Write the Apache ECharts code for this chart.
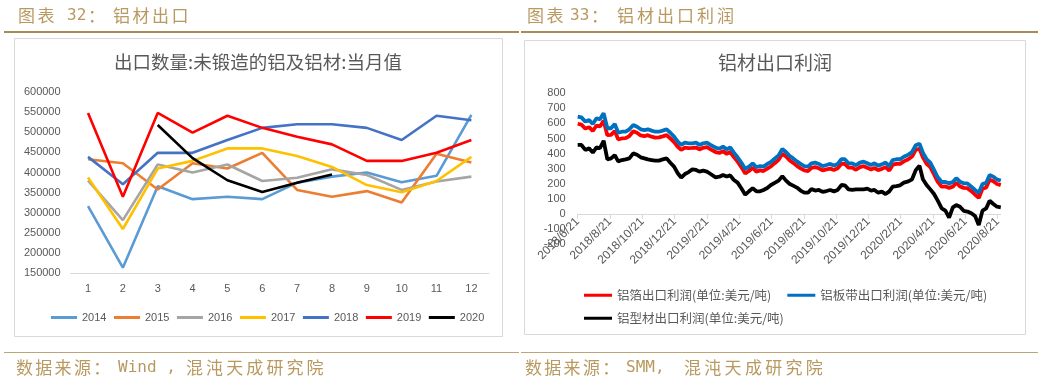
<!DOCTYPE html>
<html>
<head>
<meta charset="utf-8">
<script src="https://cdn.jsdelivr.net/npm/echarts@6/dist/echarts.min.js"></script>
<style>
html,body{margin:0;padding:0;background:#fff;}
#c{width:1038px;height:381px;}
</style>
</head>
<body>
<div id="c"></div>
<script>
// ---------- Left chart data ----------
const months = ['1','2','3','4','5','6','7','8','9','10','11','12'];
const yearNames = ['2014','2015','2016','2017','2018','2019','2020'];
const y2014 = [317000,164000,366000,334000,340000,334000,375000,390000,400000,376000,392000,543000];
const y2015 = [433000,423000,358000,423000,410000,449000,357000,340000,354000,326000,447000,425000];
const y2016 = [380000,282000,420000,400000,420000,379000,387000,408000,394000,357000,378000,390000];
const y2017 = [388000,260000,410000,429000,460000,460000,441000,414000,369000,351000,379000,439000];
const y2018 = [439000,371000,449000,449000,481000,511000,520000,520000,511000,481000,541000,530000];
const y2019 = [548000,340000,548000,499000,541000,511000,489000,470000,429000,429000,449000,481000];
const y2020 = [null,null,518000,436000,381000,352000,375000,395000,null,null,null,null];

// ---------- Right chart data ----------
const dates = ['2018/6/21','2018/6/28','2018/7/5','2018/7/12','2018/7/19','2018/7/26','2018/8/2','2018/8/9','2018/8/16','2018/8/23','2018/8/30','2018/9/6','2018/9/13','2018/9/20','2018/9/27','2018/10/4','2018/10/11','2018/10/18','2018/10/25','2018/11/1','2018/11/8','2018/11/15','2018/11/22','2018/11/29','2018/12/6','2018/12/13','2018/12/20','2018/12/27',
'2019/1/3','2019/1/10','2019/1/17','2019/1/24','2019/1/31','2019/2/7','2019/2/14','2019/2/21','2019/2/28','2019/3/7','2019/3/14','2019/3/21','2019/3/28','2019/4/4','2019/4/11','2019/4/18','2019/4/25','2019/5/2','2019/5/9','2019/5/16','2019/5/23','2019/5/30','2019/6/6','2019/6/13','2019/6/20','2019/6/27','2019/7/4','2019/7/11','2019/7/18','2019/7/25','2019/8/1','2019/8/8','2019/8/15','2019/8/22','2019/8/29','2019/9/5','2019/9/12','2019/9/19','2019/9/26','2019/10/3','2019/10/10','2019/10/17','2019/10/24','2019/10/31','2019/11/7','2019/11/14','2019/11/21','2019/11/28','2019/12/5','2019/12/12','2019/12/19','2019/12/26',
'2020/1/2','2020/1/9','2020/1/16','2020/1/23','2020/1/30','2020/2/6','2020/2/13','2020/2/20','2020/2/27','2020/3/5','2020/3/12','2020/3/19','2020/3/26','2020/4/2','2020/4/9','2020/4/16','2020/4/23','2020/4/30','2020/5/7','2020/5/14','2020/5/21','2020/5/28','2020/6/4','2020/6/11','2020/6/18','2020/6/25','2020/7/2','2020/7/9','2020/7/16','2020/7/23','2020/7/30','2020/8/6','2020/8/13','2020/8/20','2020/8/27'];
const foil = [598,592,566,575,550,586,580,618,522,524,550,494,500,502,516,548,538,520,515,522,512,506,507,514,522,500,476,445,425,440,436,437,440,427,438,442,428,410,404,
416,398,410,377,346,310,268,284,306,280,288,284,300,315,336,358,398,380,354,338,318,302,288,284,305,310,302,288,295,300,291,302,332,331,306,306,292,310,316,
305,294,304,290,298,310,287,326,332,331,348,362,380,425,432,375,332,310,262,212,180,181,172,180,206,182,172,170,150,128,105,166,175,226,216,198,190];
const plate = [645,640,612,623,596,634,627,667,568,568,596,538,545,545,561,590,578,561,556,561,552,545,545,552,561,538,512,479,457,472,468,468,472,457,468,472,457,439,432,
446,428,441,406,375,340,298,313,335,309,317,313,331,344,366,388,430,410,384,368,348,331,317,313,335,340,331,317,324,331,320,331,362,362,335,335,322,340,346,
335,324,335,320,328,340,317,357,362,362,379,393,410,455,465,406,362,340,291,242,211,211,202,211,236,213,202,202,180,158,140,197,206,257,246,228,220];
const profile = [457,457,424,435,406,441,435,485,361,368,390,348,357,361,368,401,392,375,368,361,357,353,353,361,368,339,313,269,240,264,277,295,291,280,286,280,264,242,246,
258,247,255,224,207,169,127,149,169,149,149,158,171,191,205,220,250,220,198,187,174,154,140,140,165,154,158,145,151,158,149,158,191,189,162,158,162,162,162,
167,154,158,140,147,131,149,180,184,189,207,215,229,290,320,229,191,162,131,87,36,21,-25,43,58,47,20,15,3,-15,-75,21,36,87,65,47,43];
const profitNames = ['铝箔出口利润(单位:美元/吨)','铝板带出口利润(单位:美元/吨)','铝型材出口利润(单位:美元/吨)'];

// months since 2018/6/21
function toX(s){
  const p = s.split('/').map(Number);
  return (p[0]-2018)*12 + (p[1]-6) + (p[2]-21)/30.44;
}
function xLabel(v){
  if (Math.abs(v - Math.round(v)) > 1e-6 || Math.round(v) % 2 !== 0) return '';
  const t = 5 + Math.round(v);
  return (2018 + Math.floor(t/12)) + '/' + (t%12 + 1) + '/21';
}

const GOLD = '#B8995F';
const LINE_GOLD = '#A98B57';
const GREY_TXT = '#595959';
const g = [];
function chars(str, x, y, adv, size, color){
  for (let i=0;i<str.length;i++){
    g.push({type:'text', x:x+i*adv, y:y, silent:true,
      style:{text:str[i], fontSize:size, fontFamily:'"Noto Sans CJK SC"', fill:color, verticalAlign:'middle', align:'left'}});
  }
}
function ascii(str, x, y, size, color){
  g.push({type:'text', x:x, y:y, silent:true,
    style:{text:str, fontSize:size, fontFamily:'"DejaVu Sans Mono"', fill:color, verticalAlign:'middle', align:'left'}});
}
// header lines and frames
g.push({type:'rect', shape:{x:4,y:31,width:515,height:2}, style:{fill:LINE_GOLD}, silent:true});
g.push({type:'rect', shape:{x:521,y:31,width:517,height:2}, style:{fill:LINE_GOLD}, silent:true});
g.push({type:'rect', shape:{x:4,y:352,width:515,height:1}, style:{fill:'#BFA476'}, silent:true});
g.push({type:'rect', shape:{x:521,y:352,width:517,height:1}, style:{fill:'#BFA476'}, silent:true});
g.push({type:'rect', shape:{x:14.5,y:38.5,width:488,height:298}, style:{fill:'none', stroke:'#D9D9D9', lineWidth:1}, silent:true});
g.push({type:'rect', shape:{x:524.5,y:40.5,width:501,height:294}, style:{fill:'none', stroke:'#D9D9D9', lineWidth:1}, silent:true});
// headers
chars('图表', 18, 16, 19.5, 17, GOLD);
ascii('32', 67, 16, 16, GOLD);
chars('：', 88, 16, 19.5, 17, GOLD);
chars('铝材出口', 113, 16, 19.5, 17, GOLD);
chars('图表', 527, 16, 19.5, 17, GOLD);
ascii('33', 570, 16, 16, GOLD);
chars('：', 591, 16, 19.5, 17, GOLD);
chars('铝材出口利润', 617, 16, 20, 17, GOLD);
// footers
chars('数据来源：', 16, 368, 19.3, 17, GOLD);
ascii('Wind ,', 118, 368, 16, GOLD);
chars('混沌天成研究院', 186, 368, 20.1, 17, GOLD);
chars('数据来源：', 525, 368, 19.3, 17, GOLD);
ascii('SMM,', 626, 368, 16, GOLD);
chars('混沌天成研究院', 684, 368, 20.3, 17, GOLD);
// chart titles
g.push({type:'text', x:258, y:62, silent:true, style:{text:'出口数量:未锻造的铝及铝材:当月值', fontSize:18.5, fontFamily:'"Noto Sans CJK SC"', fill:GREY_TXT, align:'center', verticalAlign:'middle'}});
g.push({type:'text', x:775, y:63, silent:true, style:{text:'铝材出口利润', fontSize:19, fontFamily:'"Noto Sans CJK SC"', fill:GREY_TXT, align:'center', verticalAlign:'middle'}});

const yearColors = ['#5B9BD5','#ED7D31','#A5A5A5','#FFC000','#4472C4','#FF0000','#000000'];
const yearData = [y2014,y2015,y2016,y2017,y2018,y2019,y2020];
const profitColors = ['#FF0000','#0070C0','#000000'];
const profitData = [foil, plate, profile];

const series = [];
yearNames.forEach((n,i)=>{
  series.push({name:n, type:'line', xAxisIndex:0, yAxisIndex:0, data:yearData[i], showSymbol:false, symbol:'none',
    connectNulls:false, color:yearColors[i], lineStyle:{width:2.6, color:yearColors[i]}, z:2+i});
});
profitNames.forEach((n,i)=>{
  series.push({name:n, type:'line', xAxisIndex:1, yAxisIndex:1,
    data:dates.map((d,k)=>[toX(d), profitData[i][k]]), showSymbol:false, symbol:'none',
    color:profitColors[i], lineStyle:{width:3.8, color:profitColors[i]}, z:2+i});
});

const axisFont = {color:GREY_TXT, fontSize:11, fontFamily:'"Liberation Sans"'};
const RX = 577.7, RW = 423.1, XMAX = 26.2;
const option = {
  animation:false,
  backgroundColor:'#fff',
  graphic:g,
  grid:[
    {left:70.6, top:92, width:418.2, height:181.3, outerBoundsMode:'none', containLabel:false},
    {left:RX, top:93.3, width:RW, height:150.6, outerBoundsMode:'none', containLabel:false},
    // thin strip whose bottom edge sits on the zero line of the profit chart, carrying the date axis
    {left:RX, top:212.8, width:RW, height:1, outerBoundsMode:'none', containLabel:false}
  ],
  xAxis:[
    {type:'category', gridIndex:0, data:months, boundaryGap:true,
      axisLine:{lineStyle:{color:'#D9D9D9', width:1}}, axisTick:{show:false},
      axisLabel:Object.assign({margin:10}, axisFont), splitLine:{show:false}},
    {type:'value', gridIndex:1, min:0, max:XMAX, interval:2, show:false},
    {type:'value', gridIndex:2, min:0, max:XMAX, interval:2, position:'bottom',
      axisLine:{onZero:false, lineStyle:{color:'#D9D9D9', width:1}},
      axisTick:{show:true, length:5, lineStyle:{color:'#D9D9D9'}},
      axisLabel:Object.assign({rotate:45, margin:6, formatter:xLabel, showMaxLabel:false, hideOverlap:false}, axisFont, {fontSize:12}),
      splitLine:{show:false}}
  ],
  yAxis:[
    {type:'value', gridIndex:0, min:150000, max:600000, interval:50000,
      axisLine:{show:false}, axisTick:{show:false}, splitLine:{show:false},
      axisLabel:Object.assign({margin:10, formatter:(v)=>String(v)}, axisFont)},
    {type:'value', gridIndex:1, min:-200, max:800, interval:100,
      axisLine:{show:false}, axisTick:{show:false}, splitLine:{show:false},
      axisLabel:Object.assign({margin:12, formatter:(v)=>String(v)}, axisFont)},
    {type:'value', gridIndex:2, min:0, max:1, show:false}
  ],
  legend:[
    {data:yearNames, left:46, top:307, itemWidth:26, itemHeight:3, itemGap:7.5, icon:'rect',
      textStyle:{color:GREY_TXT, fontSize:11, fontFamily:'"Liberation Sans"'}, selectedMode:false},
    {data:[profitNames[0], profitNames[1]], left:579, top:284, itemWidth:28, itemHeight:3, itemGap:16, icon:'rect',
      textStyle:{color:GREY_TXT, fontSize:12.5, fontFamily:'"Noto Sans CJK SC"'}, selectedMode:false},
    {data:[profitNames[2]], left:579, top:307, itemWidth:28, itemHeight:3, icon:'rect',
      textStyle:{color:GREY_TXT, fontSize:12.5, fontFamily:'"Noto Sans CJK SC"'}, selectedMode:false}
  ],
  series:series
};
const chart = echarts.init(document.getElementById('c'), null, {renderer:'canvas', width:1038, height:381});
chart.setOption(option);
</script>
</body>
</html>
